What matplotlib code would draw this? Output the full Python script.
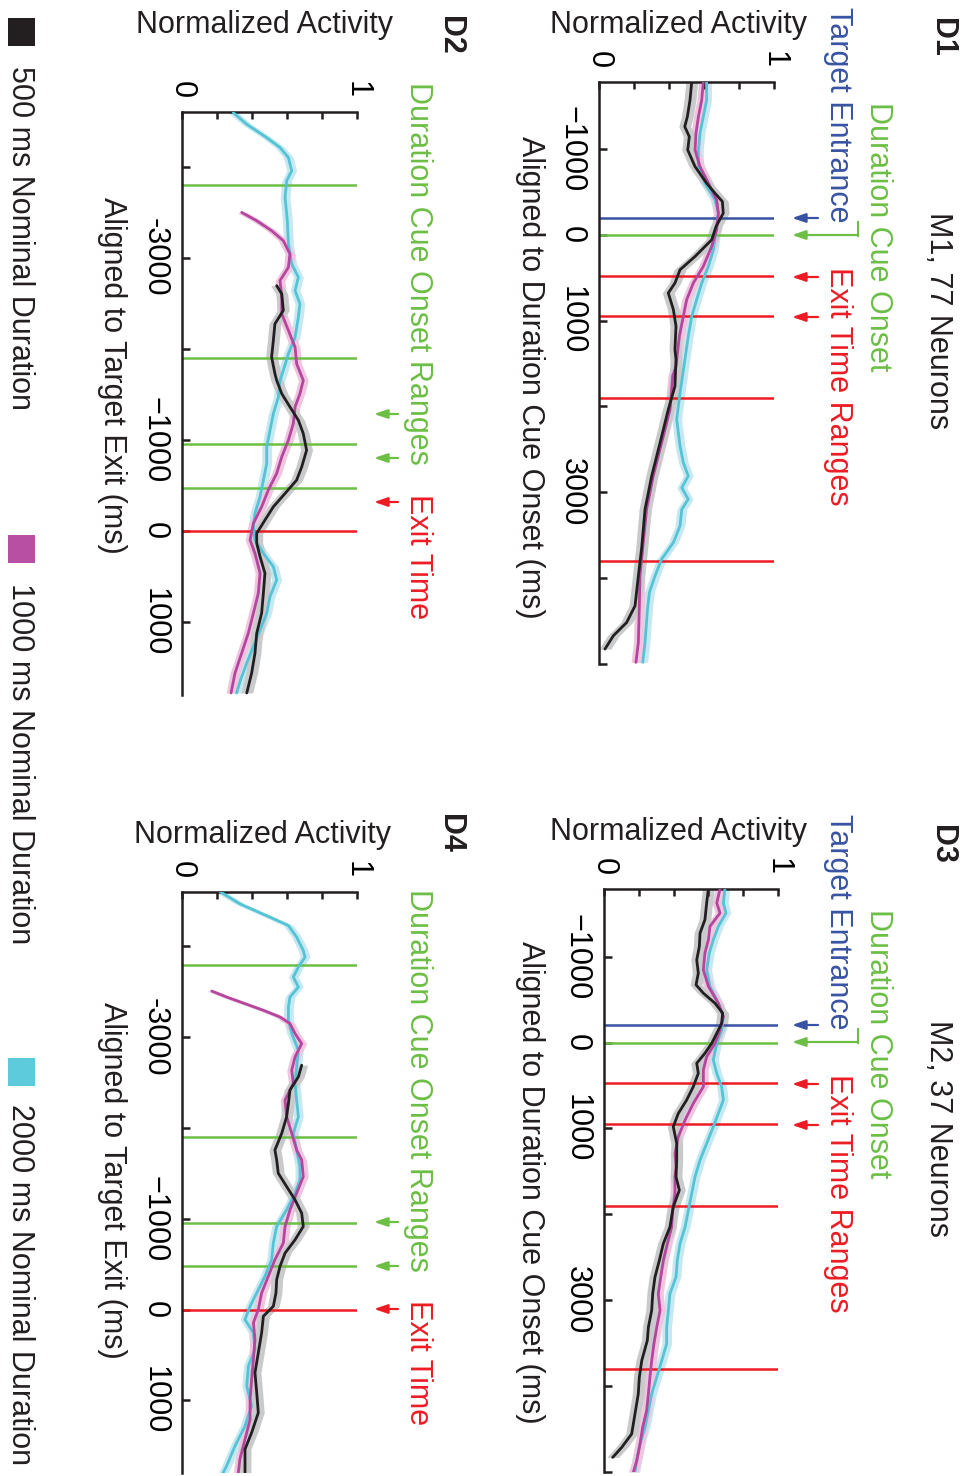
import matplotlib
matplotlib.use('Agg')
import matplotlib.pyplot as plt
from matplotlib.patches import Rectangle, FancyArrowPatch
from matplotlib.lines import Line2D
import numpy as np

plt.rcParams['font.family'] = ['Liberation Sans', 'DejaVu Sans']

W, H = 964, 1476

# ---------------- data ----------------
# D1 (M1, aligned to duration cue onset)
d1_black_t = [-1783, -1570, -1376, -1260, -1143, -988, -794, -601, -484, -388, -252, -97, 58, 252, 407, 562, 678, 872, 1066, 1337, 1453, 1764, 2035, 2422, 2810, 3198, 3643, 3973, 4322, 4516, 4671, 4826]
d1_black_a = [0.530, 0.520, 0.505, 0.490, 0.516, 0.507, 0.549, 0.615, 0.663, 0.705, 0.710, 0.669, 0.644, 0.549, 0.463, 0.434, 0.396, 0.425, 0.440, 0.434, 0.440, 0.434, 0.396, 0.349, 0.301, 0.263, 0.244, 0.225, 0.206, 0.158, 0.082, 0.034]
d1_mag_t = [-1783, -1570, -1376, -1182, -988, -794, -601, -407, -252, -58, 136, 368, 562, 756, 950, 1182, 1531, 1647, 2035, 2422, 2810, 3198, 3585, 3973, 4360, 4748, 4981]
d1_mag_a = [0.596, 0.587, 0.568, 0.554, 0.549, 0.577, 0.625, 0.672, 0.682, 0.672, 0.644, 0.596, 0.539, 0.501, 0.482, 0.459, 0.440, 0.421, 0.406, 0.358, 0.310, 0.272, 0.253, 0.234, 0.230, 0.225, 0.211]
d1_cyan_t = [-1783, -1570, -1376, -1182, -988, -794, -601, -407, -252, -58, 175, 368, 562, 756, 950, 1182, 1453, 1841, 2151, 2461, 2655, 2810, 2946, 3081, 3198, 3391, 3585, 3779, 3973, 4167, 4360, 4554, 4748, 4981]
d1_cyan_a = [0.615, 0.615, 0.596, 0.577, 0.568, 0.568, 0.606, 0.663, 0.682, 0.669, 0.653, 0.625, 0.587, 0.558, 0.530, 0.510, 0.491, 0.463, 0.444, 0.463, 0.482, 0.510, 0.473, 0.510, 0.473, 0.463, 0.425, 0.358, 0.320, 0.288, 0.277, 0.270, 0.263, 0.250]

# D2 (M1, aligned to target exit)
d2_black_t = [-2694, -2603, -2421, -2275, -2092, -1910, -1727, -1654, -1508, -1362, -1216, -1070, -887, -704, -559, -413, -266, -120, 25, 135, 281, 463, 682, 902, 1121, 1340, 1559, 1778]
d2_black_a = [0.541, 0.570, 0.579, 0.531, 0.522, 0.512, 0.531, 0.541, 0.570, 0.617, 0.665, 0.693, 0.712, 0.684, 0.655, 0.589, 0.522, 0.474, 0.427, 0.427, 0.446, 0.474, 0.465, 0.455, 0.427, 0.417, 0.398, 0.370]
d2_mag_t = [-3498, -3406, -3297, -3187, -3041, -2895, -2749, -2566, -2384, -2202, -2019, -1837, -1654, -1508, -1362, -1180, -997, -814, -632, -449, -266, -84, 99, 245, 463, 682, 902, 1121, 1340, 1559, 1778]
d2_mag_a = [0.341, 0.427, 0.512, 0.579, 0.617, 0.608, 0.560, 0.570, 0.570, 0.608, 0.646, 0.655, 0.693, 0.674, 0.646, 0.636, 0.608, 0.570, 0.541, 0.493, 0.455, 0.408, 0.389, 0.417, 0.446, 0.436, 0.408, 0.379, 0.341, 0.303, 0.280]
d2_cyan_t = [-4593, -4465, -4319, -4210, -4100, -3954, -3844, -3662, -3406, -3151, -2932, -2786, -2640, -2494, -2348, -2128, -1946, -1763, -1654, -1471, -1289, -1106, -923, -741, -559, -376, -194, -47, 99, 245, 391, 537, 719, 902, 1084, 1267, 1449, 1632, 1778]
d2_cyan_a = [0.293, 0.370, 0.484, 0.560, 0.608, 0.627, 0.598, 0.589, 0.602, 0.608, 0.627, 0.665, 0.646, 0.674, 0.665, 0.646, 0.608, 0.579, 0.560, 0.551, 0.522, 0.503, 0.484, 0.484, 0.465, 0.446, 0.417, 0.408, 0.417, 0.465, 0.522, 0.541, 0.503, 0.484, 0.446, 0.408, 0.370, 0.335, 0.312]

# D3 (M2, aligned to duration cue onset)
d3_black_t = [-1788, -1625, -1430, -1275, -1119, -963, -808, -672, -575, -458, -342, -225, -108, 8, 125, 241, 358, 514, 669, 825, 980, 1175, 1368, 1563, 1719, 1913, 2147, 2341, 2536, 2730, 2924, 3119, 3314, 3469, 3702, 3897, 4091, 4324, 4557, 4713, 4830]
d3_black_a = [0.600, 0.590, 0.580, 0.552, 0.548, 0.533, 0.542, 0.529, 0.571, 0.638, 0.682, 0.676, 0.648, 0.619, 0.580, 0.533, 0.542, 0.513, 0.475, 0.427, 0.398, 0.418, 0.418, 0.414, 0.433, 0.398, 0.379, 0.341, 0.318, 0.293, 0.280, 0.274, 0.255, 0.249, 0.217, 0.203, 0.197, 0.178, 0.159, 0.102, 0.050]
d3_mag_t = [-1788, -1625, -1508, -1353, -1197, -1041, -847, -653, -458, -303, -147, 8, 164, 319, 514, 708, 902, 1097, 1291, 1447, 1563, 1758, 1952, 2147, 2341, 2536, 2730, 2924, 3119, 3314, 3508, 3702, 3897, 4091, 4285, 4480, 4674, 4869, 5000]
d3_mag_a = [0.667, 0.648, 0.667, 0.609, 0.600, 0.580, 0.571, 0.600, 0.657, 0.686, 0.667, 0.638, 0.590, 0.571, 0.571, 0.513, 0.466, 0.427, 0.408, 0.414, 0.408, 0.408, 0.395, 0.389, 0.364, 0.341, 0.326, 0.312, 0.322, 0.303, 0.287, 0.274, 0.264, 0.255, 0.245, 0.222, 0.207, 0.188, 0.169]
d3_cyan_t = [-1788, -1625, -1508, -1353, -1197, -1041, -847, -653, -458, -303, -147, 8, 202, 358, 514, 669, 825, 980, 1175, 1368, 1563, 1758, 1952, 2147, 2341, 2536, 2730, 2924, 3119, 3314, 3508, 3702, 3897, 4091, 4285, 4480, 4674, 4869, 5000]
d3_cyan_a = [0.695, 0.686, 0.701, 0.657, 0.628, 0.605, 0.590, 0.609, 0.657, 0.686, 0.676, 0.648, 0.628, 0.648, 0.676, 0.686, 0.657, 0.628, 0.590, 0.552, 0.523, 0.504, 0.485, 0.466, 0.437, 0.421, 0.414, 0.379, 0.370, 0.360, 0.360, 0.332, 0.303, 0.274, 0.255, 0.236, 0.207, 0.188, 0.178]

# D4 (M2, aligned to target exit)
d4_black_t = [-2692, -2564, -2418, -2271, -2125, -1942, -1758, -1648, -1502, -1355, -1209, -1062, -916, -769, -623, -476, -330, -183, -37, 73, 256, 476, 696, 916, 1136, 1355, 1538, 1795]
d4_black_a = [0.684, 0.665, 0.617, 0.608, 0.598, 0.570, 0.531, 0.541, 0.550, 0.598, 0.646, 0.684, 0.693, 0.646, 0.589, 0.560, 0.541, 0.537, 0.522, 0.465, 0.455, 0.436, 0.417, 0.427, 0.436, 0.398, 0.360, 0.360]
d4_mag_t = [-3509, -3443, -3370, -3297, -3223, -3150, -3040, -2930, -2784, -2637, -2491, -2308, -2125, -1942, -1758, -1648, -1465, -1282, -1099, -916, -733, -549, -366, -183, 0, 146, 330, 549, 769, 989, 1209, 1429, 1648, 1795]
d4_mag_a = [0.170, 0.255, 0.360, 0.465, 0.560, 0.617, 0.646, 0.684, 0.646, 0.627, 0.636, 0.589, 0.598, 0.627, 0.655, 0.684, 0.693, 0.655, 0.617, 0.589, 0.579, 0.531, 0.493, 0.455, 0.436, 0.408, 0.417, 0.408, 0.398, 0.389, 0.389, 0.360, 0.331, 0.322]
d4_cyan_t = [-4604, -4469, -4322, -4231, -4103, -3956, -3882, -3773, -3663, -3553, -3443, -3333, -3187, -3040, -2857, -2674, -2491, -2308, -2125, -1942, -1758, -1575, -1429, -1282, -1099, -916, -733, -549, -366, -183, -37, 110, 256, 440, 623, 843, 1062, 1282, 1502, 1722, 1795]
d4_cyan_a = [0.217, 0.331, 0.503, 0.608, 0.655, 0.693, 0.703, 0.665, 0.636, 0.665, 0.617, 0.608, 0.608, 0.627, 0.665, 0.655, 0.646, 0.655, 0.665, 0.636, 0.655, 0.674, 0.674, 0.646, 0.598, 0.541, 0.522, 0.512, 0.474, 0.427, 0.389, 0.360, 0.408, 0.417, 0.379, 0.370, 0.398, 0.360, 0.303, 0.255, 0.236]

sem_black = 0.034
sem_mag = 0.028
sem_cyan = 0.028

# event times
cue_events = [-200, 0]            # target entrance, duration cue onset
exit_ranges = [475, 950, 1900, 3800]
cue_ranges = [-3800, -1900, -950, -475]
exit_event = [0]

legend_labels = ['500 ms Nominal Duration', '1000 ms Nominal Duration', '2000 ms Nominal Duration']

# ---------------- styles ----------------
C_BLACK, C_MAG, C_CYAN = '#231f20', '#b4469e', '#55c3d6'
B_BLACK, B_MAG, B_CYAN = '#c9cacb', '#efc5e0', '#c6e8f0'
BLUE, GREEN, RED = '#3953a4', '#6cbe45', '#ed1c24'
FS = 22

fig = plt.figure(figsize=(W / 100, H / 100), dpi=100)


def fx(x):
    return x / W


def fy(y):
    return 1 - y / H


def make_ax(left, right, top, bottom):
    return fig.add_axes([fx(left), fy(bottom), (right - left) / W, (bottom - top) / H])


def style_ax(ax, ylim, yticks, ylabels):
    ax.set_xlim(0, 1)
    ax.set_ylim(*ylim)
    for s in ['right', 'bottom']:
        ax.spines[s].set_visible(False)
    for s in ['left', 'top']:
        ax.spines[s].set_linewidth(1.8)
        ax.spines[s].set_color('#231f20')
    ax.xaxis.tick_top()
    ax.set_xticks([0, 0.2, 0.4, 0.6, 0.8, 1.0])
    ax.set_xticklabels(['0', '', '', '', '', '1'], rotation=-90, fontsize=FS)
    ax.set_yticks(yticks)
    ax.set_yticklabels(ylabels, rotation=-90, fontsize=FS, va='center')
    ax.tick_params(axis='x', direction='in', length=5, width=1.8, pad=10, color='#231f20')
    ax.tick_params(axis='y', direction='in', length=6, width=1.8, pad=9, color='#231f20')
    ax.patch.set_alpha(0)


def draw_traces(ax, traces):
    for t, a, col, bcol, sem in traces:
        t = np.asarray(t, float)
        a = np.asarray(a, float)
        ax.fill_betweenx(t, a - sem, a + sem, color=bcol, lw=0, zorder=1)
    for t, a, col, bcol, sem in traces:
        ax.plot(a, t, color=col, lw=2.0, zorder=3, solid_joinstyle='round', solid_capstyle='round')


def draw_events(ax, events):
    for t, col in events:
        ax.axhline(t, 0, 1, color=col, lw=1.8, zorder=2)


def arrow(x_tail, x_head, y, col):
    fig.add_artist(FancyArrowPatch((fx(x_tail), fy(y)), (fx(x_head), fy(y)),
                                   transform=fig.transFigure, arrowstyle='-|>,head_length=0.5,head_width=0.17',
                                   mutation_scale=16, color=col, lw=1.6, shrinkA=0, shrinkB=0))


def vtext(x, y, s, col='#231f20', weight='normal', size=FS):
    fig.text(fx(x), fy(y), s, rotation=-90, ha='center', va='center', color=col,
             fontsize=size, fontweight=weight)


def htext(x, y, s, col='#231f20', size=FS):
    fig.text(fx(x), fy(y), s, ha='center', va='center', color=col, fontsize=size)


# ---------------- D1 ----------------
ax1 = make_ax(599, 774, 82, 664)
style_ax(ax1, (5000, -1780), [-1000, 0, 1000, 2000, 3000, 4000, 5000],
         ['\u22121000', '0', '1000', '', '3000', '', ''])
draw_events(ax1, [(cue_events[0], BLUE), (cue_events[1], GREEN)] + [(e, RED) for e in exit_ranges])
draw_traces(ax1, [(d1_cyan_t, d1_cyan_a, C_CYAN, B_CYAN, sem_cyan),
                  (d1_mag_t, d1_mag_a, C_MAG, B_MAG, sem_mag),
                  (d1_black_t, d1_black_a, C_BLACK, B_BLACK, sem_black)])

# ---------------- D2 ----------------
ax2 = make_ax(182, 357, 112, 695)
style_ax(ax2, (1800, -4600), [-4000, -3000, -2000, -1000, 0, 1000],
         ['', '-3000', '', '\u22121000', '0', '1000'])
draw_events(ax2, [(e, GREEN) for e in cue_ranges] + [(exit_event[0], RED)])
draw_traces(ax2, [(d2_cyan_t, d2_cyan_a, C_CYAN, B_CYAN, sem_cyan),
                  (d2_mag_t, d2_mag_a, C_MAG, B_MAG, sem_mag),
                  (d2_black_t, d2_black_a, C_BLACK, B_BLACK, sem_black)])

# ---------------- D3 ----------------
ax3 = make_ax(604, 778, 889, 1472)
style_ax(ax3, (5000, -1788), [-1000, 0, 1000, 2000, 3000, 4000, 5000],
         ['\u22121000', '0', '1000', '', '3000', '', ''])
draw_events(ax3, [(cue_events[0], BLUE), (cue_events[1], GREEN)] + [(e, RED) for e in exit_ranges])
draw_traces(ax3, [(d3_cyan_t, d3_cyan_a, C_CYAN, B_CYAN, sem_cyan),
                  (d3_mag_t, d3_mag_a, C_MAG, B_MAG, sem_mag),
                  (d3_black_t, d3_black_a, C_BLACK, B_BLACK, sem_black)])

# ---------------- D4 ----------------
ax4 = make_ax(182, 357, 892, 1473)
style_ax(ax4, (1800, -4600), [-4000, -3000, -2000, -1000, 0, 1000],
         ['', '-3000', '', '\u22121000', '0', '1000'])
draw_events(ax4, [(e, GREEN) for e in cue_ranges] + [(exit_event[0], RED)])
draw_traces(ax4, [(d4_cyan_t, d4_cyan_a, C_CYAN, B_CYAN, sem_cyan),
                  (d4_mag_t, d4_mag_a, C_MAG, B_MAG, sem_mag),
                  (d4_black_t, d4_black_a, C_BLACK, B_BLACK, sem_black)])

# ---------------- annotations ----------------
# D1 / D3 headers
for off, (name, neurons) in zip([0, 807], [('D1', 'M1, 77 Neurons'), ('D3', 'M2, 37 Neurons')]):
    vtext(942, 37 + off, name, weight='bold')
    vtext(938, 321 + off, neurons)
    vtext(878, 237 + off, 'Duration Cue Onset', col=GREEN)
    vtext(838, 115 + off, 'Target Entrance', col=BLUE)
    vtext(838, 386 + off, 'Exit Time Ranges', col=RED)
    htext(679, 25 + off, 'Normalized Activity')

arrow(818, 792, 218, BLUE)
arrow(858, 792, 235, GREEN)
fig.add_artist(Line2D([fx(858), fx(858)], [fy(222), fy(236)], transform=fig.transFigure, color=GREEN, lw=1.5))
arrow(818, 792, 277, RED)
arrow(818, 792, 317, RED)
arrow(818, 792, 1025, BLUE)
arrow(858, 792, 1042, GREEN)
fig.add_artist(Line2D([fx(858), fx(858)], [fy(1029), fy(1043)], transform=fig.transFigure, color=GREEN, lw=1.5))
arrow(818, 792, 1084, RED)
arrow(818, 792, 1125, RED)

vtext(530, 377, 'Aligned to Duration Cue Onset (ms)')
vtext(530, 1182, 'Aligned to Duration Cue Onset (ms)')

# D2 / D4 headers
vtext(450, 35, 'D2', weight='bold')
vtext(418, 273, 'Duration Cue Onset Ranges', col=GREEN)
vtext(418, 557, 'Exit Time', col=RED)
htext(264, 25, 'Normalized Activity')
arrow(398, 374, 414, GREEN)
arrow(398, 374, 458, GREEN)
arrow(398, 374, 502, RED)
vtext(112, 375, 'Aligned to Target Exit (ms)')

vtext(450, 833, 'D4', weight='bold')
vtext(418, 1080, 'Duration Cue Onset Ranges', col=GREEN)
vtext(418, 1363, 'Exit Time', col=RED)
htext(262, 835, 'Normalized Activity')
arrow(398, 374, 1222, GREEN)
arrow(398, 374, 1266, GREEN)
arrow(398, 374, 1309, RED)
vtext(112, 1180, 'Aligned to Target Exit (ms)')

# legend
for (ytop, col, lab, ylab) in zip([18, 535, 1058], ['#231f20', '#b94fa3', '#5ecbdc'], legend_labels, [238, 764, 1285]):
    fig.add_artist(Rectangle((fx(8), fy(ytop + 28)), 27 / W, 28 / H, transform=fig.transFigure,
                             facecolor=col, edgecolor='none'))
    vtext(20, ylab, lab)

fig.savefig('out.png', dpi=100)
